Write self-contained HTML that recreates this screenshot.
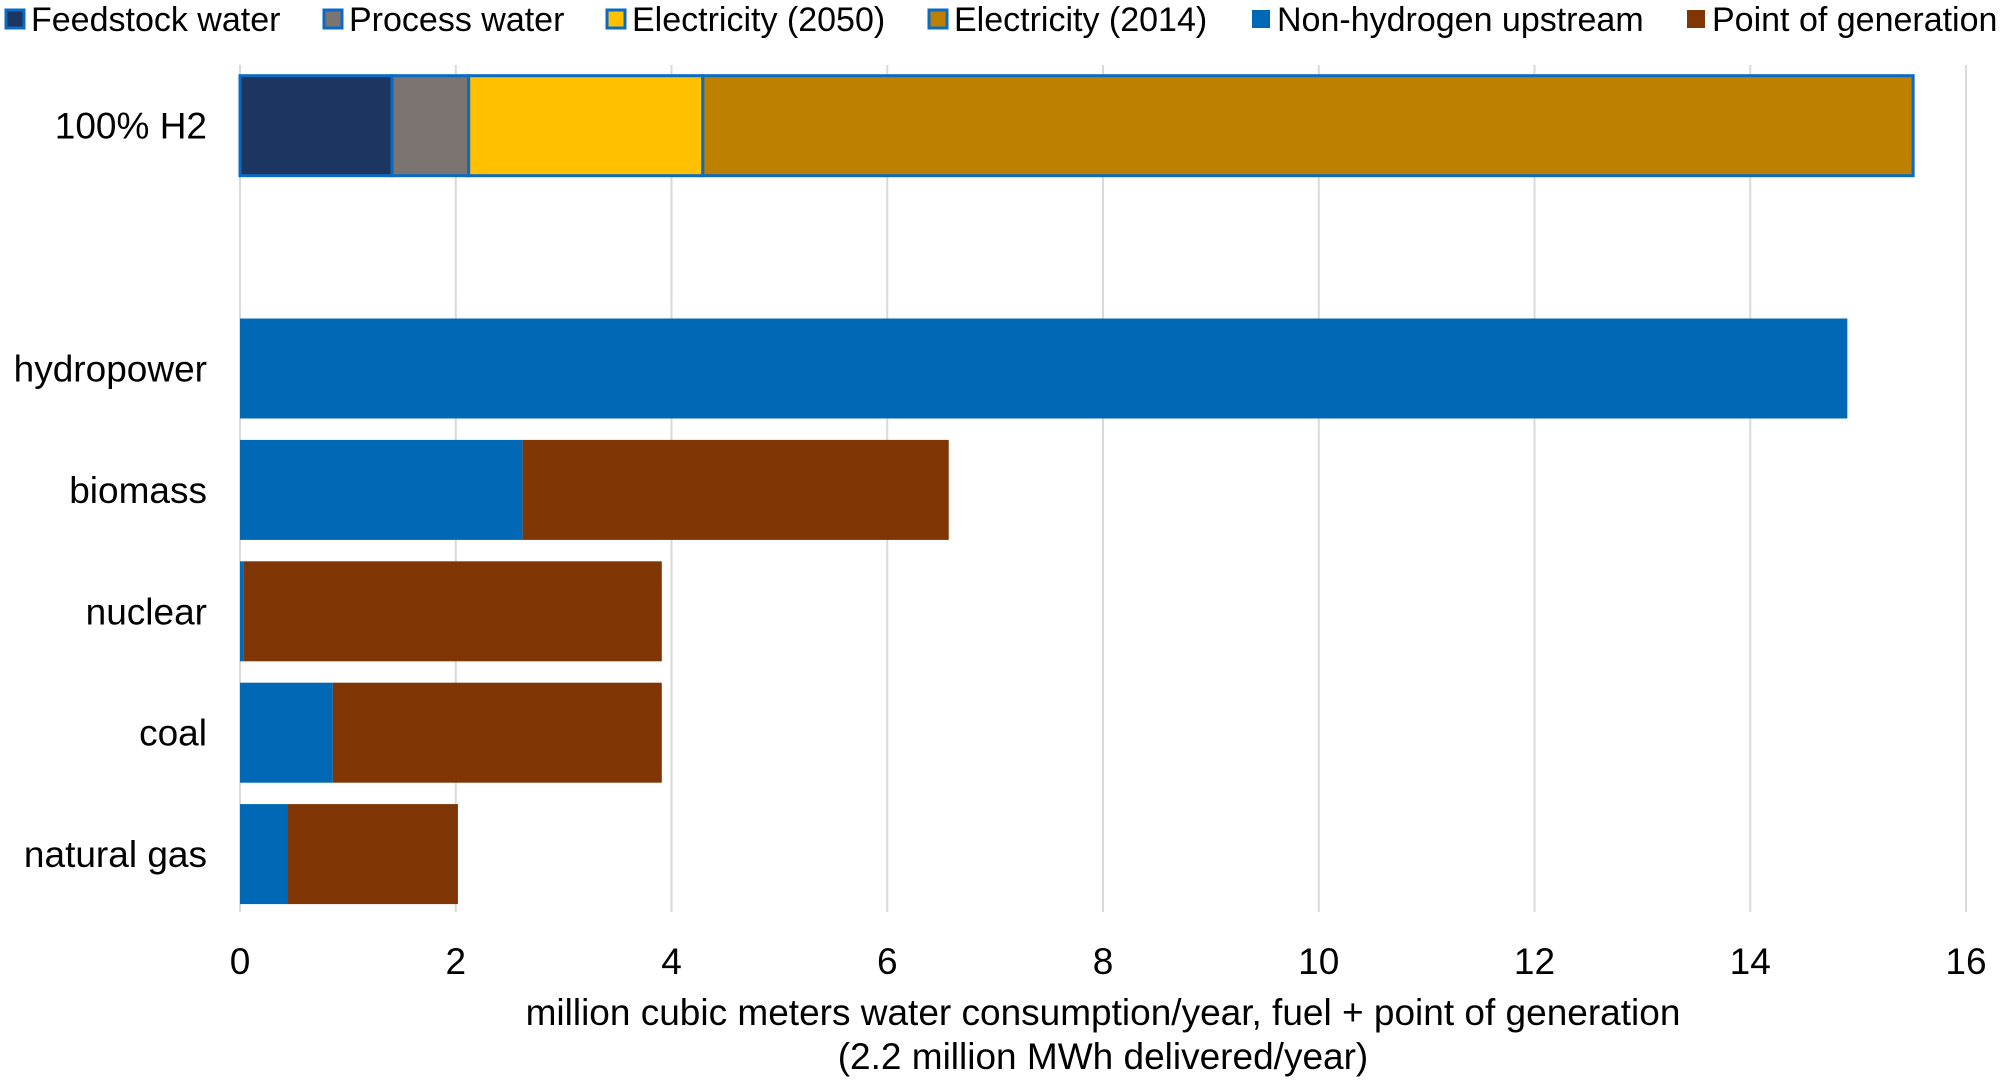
<!DOCTYPE html>
<html><head><meta charset="utf-8"><style>
html,body{margin:0;padding:0;background:#fff;}
svg{display:block;font-family:"Liberation Sans",Arial,sans-serif;}
</style></head><body>
<svg id="chart" width="2000" height="1081" viewBox="0 0 2000 1081">
<g id="legend"></g>
<g id="grid"></g>
<g id="bars"></g>
<g id="ylabels"></g>
<g id="xticks"></g>
<text x="1103" y="1025" font-size="37" text-anchor="middle" fill="#000">million cubic meters water consumption/year, fuel + point of generation</text>
<text x="1103" y="1069" font-size="37" text-anchor="middle" fill="#000">(2.2 million MWh delivered/year)</text>
</svg>
<script>
const categories = ["100% H2", "", "hydropower", "biomass", "nuclear", "coal", "natural gas"];
const seriesNames = ["Feedstock water","Process water","Electricity (2050)","Electricity (2014)","Non-hydrogen upstream","Point of generation"];
const feedstock = [1.41, 0, 0, 0, 0, 0, 0];
const processWater = [0.71, 0, 0, 0, 0, 0, 0];
const elec2050 = [2.17, 0, 0, 0, 0, 0, 0];
const elec2014 = [11.22, 0, 0, 0, 0, 0, 0];
const upstream = [0, 0, 14.9, 2.62, 0.03, 0.86, 0.44];
const pointGen = [0, 0, 0, 3.95, 3.88, 3.05, 1.58];
const xTicks = [0,2,4,6,8,10,12,14,16];

const colors = ["#1c3661","#7b7470","#ffc000","#bd8000","#0068b5","#7f3504"];
const series = [feedstock, processWater, elec2050, elec2014, upstream, pointGen];
const NS="http://www.w3.org/2000/svg";
const x0=240, x1=1966, xMax=16, yTop=65, slot=121.4, barH=100;
const xs = v => x0 + v/xMax*(x1-x0);
const yc = i => yTop + slot*(i+0.5);
function mk(tag, attrs, parent){const e=document.createElementNS(NS,tag);for(const k in attrs)e.setAttribute(k,attrs[k]);parent.appendChild(e);return e;}

const grid=document.getElementById('grid');
const xt=document.getElementById('xticks');
xTicks.forEach(t=>{
  const l=mk('line',{x1:xs(t),x2:xs(t),y1:yTop,y2:912,stroke:'#d9d9d9','stroke-width':2},grid);
  
  
  const tx=mk('text',{x:xs(t),y:974,'font-size':37,'text-anchor':'middle',fill:'#000'},xt);
  tx.textContent=t;
  
  
});

const bars=document.getElementById('bars');
const yl=document.getElementById('ylabels');
categories.forEach((c,i)=>{
  let acc=0;
  series.forEach((s,si)=>{
    const v=s[i]; if(!v) return;
    const isH2 = si<4;
    const r=mk('rect',{x:xs(acc),y:yc(i)-barH/2,width:xs(acc+v)-xs(acc),height:barH,fill:colors[si]},bars);
    if(isH2){r.setAttribute('stroke','#0a6bc4');r.setAttribute('stroke-width','3');}
    
    
    acc+=v;
  });
  if(c){
    const t=mk('text',{x:207,y:yc(i)+13,'font-size':37,'text-anchor':'end',fill:'#000'},yl);
    t.textContent=c;
    
    
  }
});

const lg=document.getElementById('legend');
const lmx=[6,324,607,929,1252,1687];
seriesNames.forEach((n,i)=>{
  const g=mk('g',{},lg);
  
  
  const r=mk('rect',{x:lmx[i],y:10,width:18,height:18,fill:colors[i]},g);
  if(i<4){r.setAttribute('stroke','#0a6bc4');r.setAttribute('stroke-width','3');}
  const t=mk('text',{x:lmx[i]+25,y:31,'font-size':34,fill:'#000'},g);
  t.textContent=n;
});
</script>
</body></html>
